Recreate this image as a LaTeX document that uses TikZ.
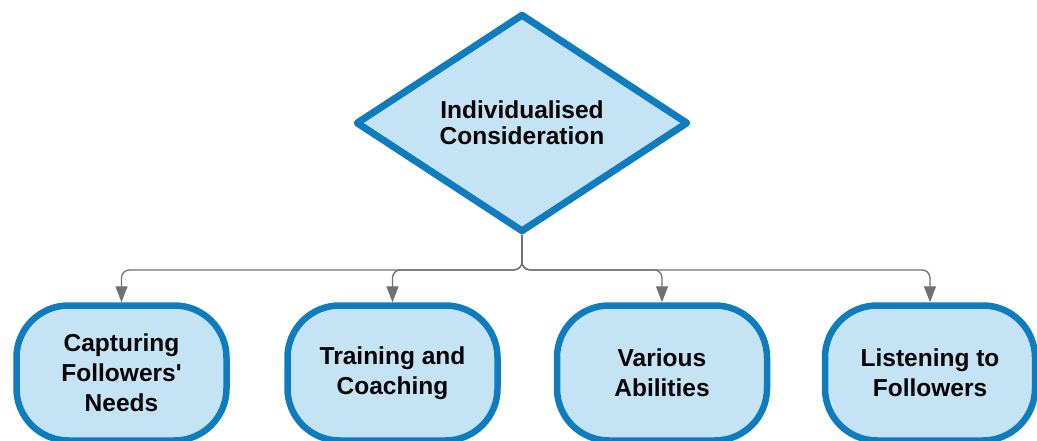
\documentclass[tikz,border=0pt]{standalone}
\usepackage{fontspec}
\setmainfont{Liberation Sans}
\usetikzlibrary{shapes.geometric, arrows.meta}
\definecolor{boxfill}{RGB}{196,228,246}
\definecolor{boxline}{RGB}{15,124,190}
\definecolor{linkgray}{RGB}{112,112,112}

\begin{document}
\begin{tikzpicture}[x=1pt, y=-1pt,
    idea/.style={draw=boxline, fill=boxfill, line width=7pt, diamond, line join=round,
      minimum width=332pt, minimum height=218pt, inner sep=0pt, outer sep=2.9pt,
      align=center, font=\bfseries\fontsize{24.5}{26}\selectfont},
    item/.style={draw=boxline, fill=boxfill, line width=6.5pt, rounded corners=52pt,
      minimum width=210pt, minimum height=135pt, inner sep=0pt, align=center,
      font=\bfseries\fontsize{24.5}{30}\selectfont},
    link/.style={draw=linkgray, line width=1.3pt, rounded corners=8pt,
      -{Triangle[length=16pt, width=12pt]}}]
        \useasboundingbox (0,0) rectangle (1037,441);
        \def \rowy {373}

        \node[idea] (I) at (522,123) {Individualised\\Consideration};

        \node[item] (N) at (121.5,\rowy) {Capturing\\Followers\textquotesingle\\Needs};
        \node[item] (T) at (392.5,\rowy) {Training and\\Coaching};
        \node[item] (A) at (662,\rowy) {Various\\Abilities};
        \node[item] (L) at (930,\rowy) {Listening to\\Followers};

        \draw[link] (I.south) -- ++(0,35) -| (N.north);
        \draw[link] (I.south) -- ++(0,35) -| (T.north);
        \draw[link] (I.south) -- ++(0,35) -| (A.north);
        \draw[link] (I.south) -- ++(0,35) -| (L.north);
      \end{tikzpicture}
\end{document}
